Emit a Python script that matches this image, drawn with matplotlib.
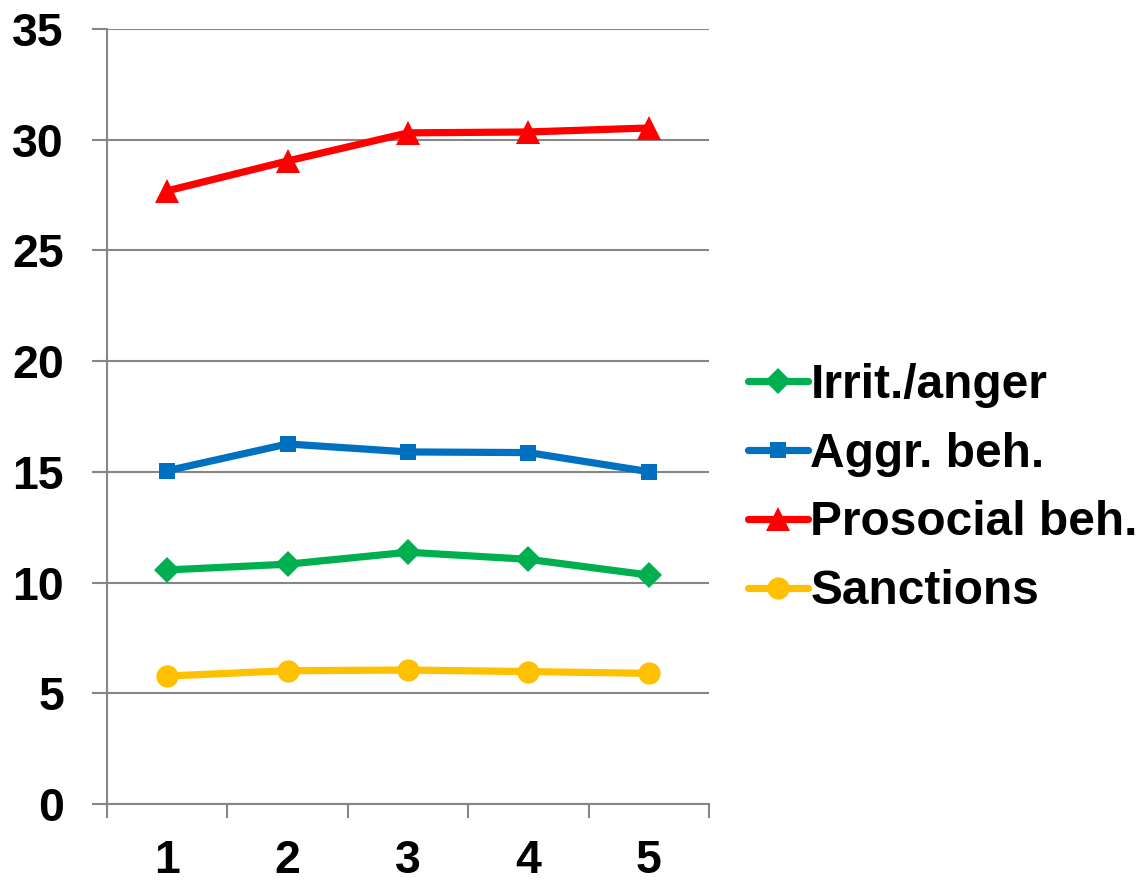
import matplotlib
matplotlib.use("Agg")
import matplotlib.pyplot as plt
import numpy as np

# Measurement waves
waves = [1, 2, 3, 4, 5]

# Scale means per wave
irrit_anger = [10.57, 10.83, 11.37, 11.05, 10.34]
aggr_beh = [15.05, 16.26, 15.90, 15.87, 15.01]
prosocial_beh = [27.69, 29.04, 30.31, 30.35, 30.53]
sanctions = [5.78, 6.02, 6.05, 5.98, 5.90]

series_labels = ["Irrit./anger", "Aggr. beh.", "Prosocial beh.", "Sanctions"]
y_ticks = [0, 5, 10, 15, 20, 25, 30, 35]

plt.rcParams["font.family"] = ["Liberation Sans", "DejaVu Sans"]
plt.rcParams["font.weight"] = "bold"

fig = plt.figure(figsize=(11.39, 8.82), dpi=100)
ax = fig.add_axes([107 / 1139, 1 - 804 / 882, (709 - 107) / 1139, (804 - 29) / 882])

grid_col = "#868686"
lw = 5.2

styles = [
    (irrit_anger, "#00B050", "D", 13.5),
    (aggr_beh, "#0070C0", "s", 12),
    (prosocial_beh, "#FF0000", "^", 17.5),
    (sanctions, "#FFC000", "o", 16),
]
for (vals, col, mk, ms), lab in zip(styles, series_labels):
    ax.plot(waves, vals, color=col, lw=lw, marker=mk, markersize=ms,
            markeredgewidth=0, label=lab, solid_capstyle="round", zorder=3)

ax.set_xlim(0.5, 5.5)
ax.set_ylim(0, 35)
ax.set_yticks(y_ticks)
ax.set_yticklabels([str(t) for t in y_ticks], fontsize=33.5, fontweight="bold")
ax.set_xticks(waves)
ax.set_xticklabels([str(w) for w in waves], fontsize=33.5, fontweight="bold")
ax.set_xticks(np.arange(0.5, 5.6, 1.0), minor=True)

ax.tick_params(axis="x", which="major", length=0, pad=25)
ax.tick_params(axis="x", which="minor", length=10, width=1.5, color=grid_col)
ax.tick_params(axis="y", which="major", length=11, width=1.5, color=grid_col, pad=20)

ax.yaxis.grid(True, color=grid_col, lw=1.5, zorder=0)
ax.set_axisbelow(True)
for s in ["top", "right"]:
    ax.spines[s].set_visible(False)
for s in ["left", "bottom"]:
    ax.spines[s].set_color(grid_col)
    ax.spines[s].set_linewidth(1.5)

fig.legend(loc="center left", bbox_to_anchor=(748 / 1139, 1 - 488.5 / 882),
           frameon=False, prop={"weight": "bold", "size": 34.5},
           handlelength=1.25, handletextpad=0.05, borderpad=0, borderaxespad=0,
           labelspacing=0.5)

fig.savefig("out.png", dpi=100)
